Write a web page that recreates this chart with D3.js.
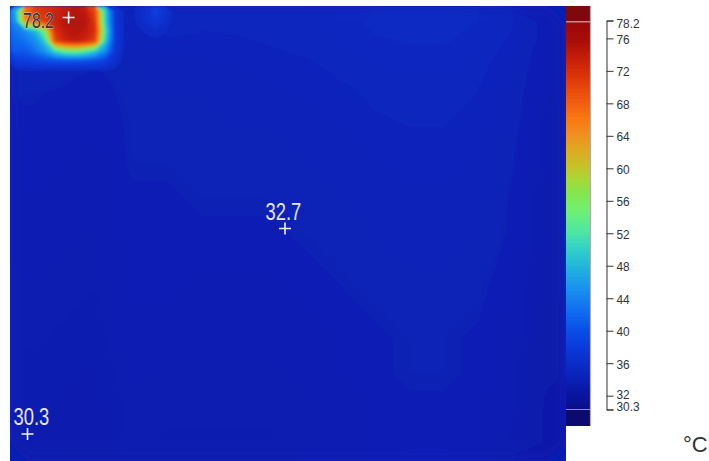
<!DOCTYPE html>
<html><head><meta charset="utf-8">
<script src="https://cdn.jsdelivr.net/npm/d3@7"></script>
<style>body{margin:0;background:#fff;} svg{display:block;}</style>
</head><body><svg id="c" width="709" height="461"></svg>
<script>
// ---- colour map (value -> colour) ----
const cmapValues = [30.3, 30.9, 32.8, 34.0, 35.2, 37.7, 40.2, 42.6, 45.1, 47.5, 50.0, 52.4, 54.9, 56.7, 58.6, 60.4, 62.3, 64.1, 66.0, 68.4, 70.9, 73.3, 75.8, 78.2];
const cmapColors = ["#0a0c80", "#0a1090", "#0a18a8", "#0a20b6", "#0a28c0", "#0a38d8", "#0a50e8", "#1070f0", "#1890f0", "#20b0e0", "#30d0c8", "#50e8a0", "#70f070", "#80e850", "#a8d838", "#c8c028", "#e0a820", "#f09020", "#f87a10", "#f05a10", "#e03a08", "#c82008", "#a80c08", "#980808"];

// ---- whole-field temperatures, 16 cols x 13 rows (row-major) ----
const fieldCols = 16, fieldRows = 13;
const fieldTemps = [
35.0,34.8,34.6,34.6,35.0,34.8,34.8,34.9,35.0,35.2,35.4,35.5,35.5,35.3,34.8,33.8,
34.4,34.2,34.0,34.2,34.4,34.4,34.5,34.6,34.7,34.9,35.1,35.2,35.2,35.0,34.4,33.6,
34.0,33.9,33.8,34.1,34.2,34.2,34.3,34.4,34.5,34.6,34.8,34.9,34.9,34.7,34.2,33.5,
33.9,33.8,33.8,34.0,34.1,34.1,34.2,34.2,34.3,34.4,34.6,34.7,34.7,34.5,34.1,33.4,
33.8,33.8,33.7,34.0,34.0,34.0,34.1,34.1,34.2,34.3,34.4,34.5,34.5,34.4,34.0,33.4,
33.8,33.7,33.7,33.9,33.9,34.0,34.0,34.0,34.1,34.2,34.3,34.4,34.4,34.3,33.9,33.3,
33.7,33.7,33.6,33.9,33.9,33.9,33.9,33.9,34.0,34.1,34.2,34.3,34.3,34.2,33.9,33.3,
33.7,33.6,33.6,33.8,33.8,33.8,33.8,33.8,33.9,34.0,34.1,34.2,34.2,34.1,33.8,33.2,
33.6,33.6,33.5,33.8,33.8,33.7,33.7,33.7,33.8,33.9,34.0,34.1,34.1,34.0,33.7,33.2,
33.6,33.5,33.5,33.7,33.7,33.7,33.7,33.7,33.7,33.8,33.9,34.0,34.0,33.9,33.7,33.1,
33.5,33.5,33.4,33.7,33.6,33.6,33.6,33.6,33.7,33.8,33.9,34.0,34.0,33.9,33.6,33.1,
33.5,33.4,33.4,33.6,33.6,33.6,33.6,33.6,33.6,33.7,33.8,33.9,33.9,33.8,33.6,33.0,
33.4,33.4,33.3,33.6,33.5,33.5,33.5,33.5,33.6,33.7,33.8,33.9,33.9,33.8,33.5,33.0
];

// ---- hot corner, finer grid, 17 cols x 7 rows, covering the top-left part of the field ----
const hotCols = 17, hotRows = 7;
const hotExtent = [[0, 0], [0.3063, 0.1538]]; // fraction of field (x0,y0),(x1,y1)
const hotTemps = [
46,67,71,72,73,74,75,74,70,50,37.5,35.4,35.6,36.6,39.0,37.0,35.2,
45,64,69,71,73,75,75,75,71,50,37.5,35.4,35.6,36.4,37.8,36.4,35.2,
43,45,48,56,72,74,75,74,72,52,38,35.4,35.4,35.7,36.2,35.7,35.0,
42,43,45,50,70,73,74,73,70,50,38,35.3,35.2,35.3,35.4,35.3,35.0,
41,41,43,46,51,54,55,53,50,45,37.5,35.2,35.0,35.0,35.0,35.0,34.9,
38,38.5,39,39.5,40,40,40,40,39.5,38.5,36.5,35.0,34.8,34.8,34.8,34.8,34.8,
35.4,35.5,35.5,35.5,35.5,35.5,35.5,35.5,35.5,35.5,35.4,34.8,34.6,34.6,34.6,34.6,34.6
];

// ---- spot readings (value, position as fraction of field) ----
const spotValues = [78.2, 32.7, 30.3];
const spotFx = [0.1054, 0.4946, 0.0315];
const spotFy = [0.0253, 0.4890, 0.9407];

// ---- colour-bar axis ----
const barMin = 30.3, barMax = 78.2;
const barTicks = [30.3, 32, 36, 40, 44, 48, 52, 56, 60, 64, 68, 72, 76, 78.2];
const unitLabel = "°C";

// =====================================================
const svg = d3.select("#c");
const color = d3.scaleLinear().domain(cmapValues).range(cmapColors).interpolate(d3.interpolateRgb).clamp(true);

const field = {x0: 10, y0: 6, x1: 566, y1: 461};
const fxs = d3.scaleLinear().domain([0, 1]).range([field.x0, field.x1]);
const fys = d3.scaleLinear().domain([0, 1]).range([field.y0, field.y1]);

const defs = svg.append("defs");
defs.append("clipPath").attr("id", "fclip").append("rect")
  .attr("x", field.x0).attr("y", field.y0).attr("width", field.x1 - field.x0).attr("height", field.y1 - field.y0);
defs.append("filter").attr("id", "softA").attr("x", "-5%").attr("y", "-5%").attr("width", "110%").attr("height", "110%")
  .append("feGaussianBlur").attr("stdDeviation", 7);
defs.append("filter").attr("id", "softB").attr("x", "-20%").attr("y", "-20%").attr("width", "140%").attr("height", "140%")
  .append("feGaussianBlur").attr("stdDeviation", 1.6);

function gridPath(cols, rows, ext) {
  const gx = d3.scaleLinear().domain([0, cols]).range([fxs(ext[0][0]), fxs(ext[1][0])]);
  const gy = d3.scaleLinear().domain([0, rows]).range([fys(ext[0][1]), fys(ext[1][1])]);
  return d3.geoPath(d3.geoTransform({point(x, y) { this.stream.point(gx(x), gy(y)); }}));
}

const fg = svg.append("g").attr("clip-path", "url(#fclip)");
fg.append("rect").attr("x", field.x0 - 10).attr("y", field.y0 - 10)
  .attr("width", field.x1 - field.x0 + 20).attr("height", field.y1 - field.y0 + 20)
  .attr("fill", color(d3.mean(fieldTemps)));

const bgPath = gridPath(fieldCols, fieldRows, [[0, 0], [1, 1]]);
const bgContours = d3.contours().size([fieldCols, fieldRows]).thresholds(d3.range(30, 37.01, 0.05))(fieldTemps);
fg.append("g").attr("filter", "url(#softA)").selectAll("path").data(bgContours).join("path")
  .attr("d", bgPath).attr("fill", d => color(d.value));

const hotPath = gridPath(hotCols, hotRows, hotExtent);
const hotContours = d3.contours().size([hotCols, hotRows]).thresholds(d3.range(35.6, 79, 0.25))(hotTemps);
fg.append("g").attr("filter", "url(#softB)").selectAll("path").data(hotContours).join("path")
  .attr("d", hotPath).attr("fill", d => color(d.value));

// spot markers
const spots = spotValues.map((v, i) => ({v, x: fxs(spotFx[i]), y: fys(spotFy[i])}));
const sg = svg.append("g");
sg.selectAll("path.cross").data(spots).join("path").attr("class", "cross")
  .attr("d", d => `M${d.x - 6},${d.y}H${d.x + 6}M${d.x},${d.y - 6}V${d.y + 6}`)
  .attr("stroke", "#f4f4f8").attr("stroke-width", 1.6).attr("fill", "none");
// labels (condensed)
const labelPos = [
  {dx: -45.5, dy: 10, size: 22, sx: 0.72, fill: "#3c2e2e", halo: "#d8c8c0"},
  {dx: -19.5, dy: -8.5, size: 23, sx: 0.8, fill: "#e6e6f0", halo: "none"},
  {dx: -14, dy: -9, size: 23, sx: 0.8, fill: "#e6e6f0", halo: "none"}
];
sg.selectAll("text").data(spots).join("text")
  .attr("transform", (d, i) => `translate(${d.x + labelPos[i].dx},${d.y + labelPos[i].dy}) scale(${labelPos[i].sx},1)`)
  .attr("font-family", "'Liberation Sans', Arial, sans-serif")
  .attr("font-size", (d, i) => labelPos[i].size)
  .attr("fill", (d, i) => labelPos[i].fill)
  .attr("stroke", (d, i) => labelPos[i].halo)
  .attr("stroke-width", 1).attr("paint-order", "stroke")
  .text(d => d.v.toFixed(1));

// ---- colour bar ----
const bar = {x: 566, w: 24};
const cy = d3.scaleLinear().domain([barMin, barMax]).range([409.5, 20.5]);
const grad = defs.append("linearGradient").attr("id", "cbar").attr("gradientUnits", "userSpaceOnUse")
  .attr("x1", 0).attr("x2", 0).attr("y1", cy(barMin)).attr("y2", cy(barMax));
grad.selectAll("stop").data(cmapValues).join("stop")
  .attr("offset", v => (v - barMin) / (barMax - barMin))
  .attr("stop-color", (v, i) => cmapColors[i]);
svg.append("rect").attr("x", bar.x).attr("y", 6).attr("width", bar.w).attr("height", cy(barMax) - 6 + 1).attr("fill", "#7c0a0c");
svg.append("rect").attr("x", bar.x).attr("y", cy(barMin)).attr("width", bar.w).attr("height", 426 - cy(barMin)).attr("fill", "#0a0a70");
svg.append("rect").attr("x", bar.x).attr("y", cy(barMax) + 1.5).attr("width", bar.w).attr("height", cy(barMin) - cy(barMax) - 1.5).attr("fill", "url(#cbar)");
svg.append("line").attr("x1", bar.x).attr("x2", bar.x + bar.w).attr("y1", cy(barMax) + 1.5).attr("y2", cy(barMax) + 1.5).attr("stroke", "#c88c8c").attr("stroke-width", 1);
svg.append("line").attr("x1", bar.x).attr("x2", bar.x + bar.w).attr("y1", cy(barMin)).attr("y2", cy(barMin)).attr("stroke", "#8890c8").attr("stroke-width", 1);
svg.append("line").attr("x1", bar.x + bar.w + 0.5).attr("x2", bar.x + bar.w + 0.5).attr("y1", 6).attr("y2", 426).attr("stroke", "#b4aaaa").attr("stroke-width", 1.2);

const tickSX = 0.88;
const axis = d3.axisRight(cy).tickValues(barTicks).tickSize(7).tickPadding(3)
  .tickFormat(v => (v === barMin || v === barMax) ? v.toFixed(1) : d3.format("d")(v));
const ag = svg.append("g").attr("transform", "translate(606.5,0)").call(axis);
ag.select(".domain").attr("stroke", "#333");
ag.selectAll(".tick line").attr("stroke", "#333");
const tickShift = v => v === barMax ? 2.5 : v === barMin ? -3.5 : v === 32 ? -1.5 : 0;
ag.selectAll(".tick text")
  .attr("font-family", "'Liberation Sans', Arial, sans-serif")
  .attr("font-size", 13.5).attr("fill", "#333")
  .attr("x", null).attr("dy", null)
  .attr("transform", v => `translate(10,${tickShift(v) + 4.8}) scale(${tickSX},1)`);

svg.append("text").attr("x", 683).attr("y", 452)
  .attr("font-family", "'Liberation Sans', Arial, sans-serif").attr("font-size", 22).attr("fill", "#333")
  .text(unitLabel);
</script></body></html>
